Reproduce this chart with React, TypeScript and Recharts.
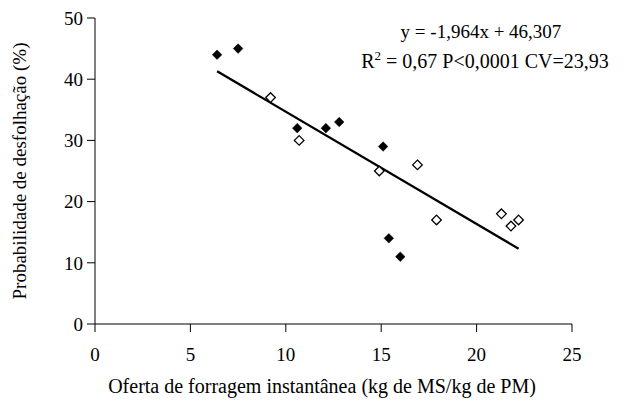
import { Label, Scatter, ScatterChart, XAxis, YAxis } from "recharts";

// pastos com leitura cheia (losangos pretos) e vazia (losangos brancos)
const filledX = [6.4, 7.5, 10.6, 12.1, 12.8, 15.1, 15.4, 16.0];
const filledY = [44, 45, 32, 32, 33, 29, 14, 11];
const openX = [9.2, 10.7, 14.9, 16.9, 17.9, 21.3, 21.8, 22.2];
const openY = [37, 30, 25, 26, 17, 18, 16, 17];
// reta ajustada, extremos
const fitX = [6.4, 22.2];
const fitY = [41.3, 12.3];

const xTicks = [0, 5, 10, 15, 20, 25];
const yTicks = [0, 10, 20, 30, 40, 50];

const xTitle = "Oferta de forragem instantânea (kg de MS/kg de PM)";
const yTitle = "Probabilidade de desfolhação (%)";
const eqLine = "y = -1,964x + 46,307";

const font = "'Liberation Serif', 'Times New Roman', serif";
const fs = 19;

const toPoints = (xs: number[], ys: number[]) => xs.map((x, i) => ({ x, y: ys[i] }));

const Diamond = (props: any) => {
  const { cx, cy, open } = props;
  const r = 4.8;
  return (
    <polygon
      points={`${cx},${cy - r} ${cx + r},${cy} ${cx},${cy + r} ${cx - r},${cy}`}
      fill={open ? "#fff" : "#000"}
      stroke="#000"
      strokeWidth={open ? 1.3 : 0.5}
    />
  );
};

export default function App() {
  const tick = { fill: "#000", fontSize: fs, fontFamily: font };
  return (
    <div style={{ position: "absolute", left: 0, top: 0, width: 639, height: 409, background: "#fff" }}>
      <ScatterChart width={639} height={409} margin={{ top: 18, right: 67, bottom: 0, left: 0 }}>
        <XAxis
          type="number"
          dataKey="x"
          domain={[0, 25]}
          ticks={xTicks}
          tickSize={8}
          tickMargin={16}
          height={85}
          stroke="#000"
          tick={tick}
          tickLine={{ stroke: "#000" }}
        >
          <Label
            content={() => (
              <text x={322} y={393} textAnchor="middle" fontSize={20} fontFamily={font} fill="#000">
                {xTitle}
              </text>
            )}
          />
        </XAxis>
        <YAxis
          type="number"
          dataKey="y"
          domain={[0, 50]}
          ticks={yTicks}
          tickSize={8}
          tickMargin={4}
          width={95}
          stroke="#000"
          tick={tick}
          tickLine={{ stroke: "#000" }}
        >
          <Label
            content={() => (
              <text
                x={19}
                y={171}
                transform="rotate(-90 19 171)"
                textAnchor="middle"
                dominantBaseline="central"
                fontSize={fs}
                fontFamily={font}
                fill="#000"
              >
                {yTitle}
              </text>
            )}
          />
        </YAxis>
        <Scatter
          data={toPoints(fitX, fitY)}
          line={{ stroke: "#000", strokeWidth: 2.3 }}
          shape={() => <g />}
          isAnimationActive={false}
        />
        <Scatter
          data={toPoints(openX, openY)}
          shape={(p: any) => <Diamond {...p} open />}
          isAnimationActive={false}
        />
        <Scatter
          data={toPoints(filledX, filledY)}
          shape={(p: any) => <Diamond {...p} />}
          isAnimationActive={false}
        />
      </ScatterChart>
      <svg width={639} height={100} style={{ position: "absolute", left: 0, top: 0 }}>
        <text x={481} y={38} textAnchor="middle" fontSize={fs} fontFamily={font} fill="#000">
          {eqLine}
        </text>
        <text x={485} y={68} textAnchor="middle" fontSize={20} fontFamily={font} fill="#000">
          R<tspan fontSize={13} dy={-8}>2</tspan>
          <tspan dy={8}> = 0,67 P&lt;0,0001 CV=23,93</tspan>
        </text>
      </svg>
    </div>
  );
}
